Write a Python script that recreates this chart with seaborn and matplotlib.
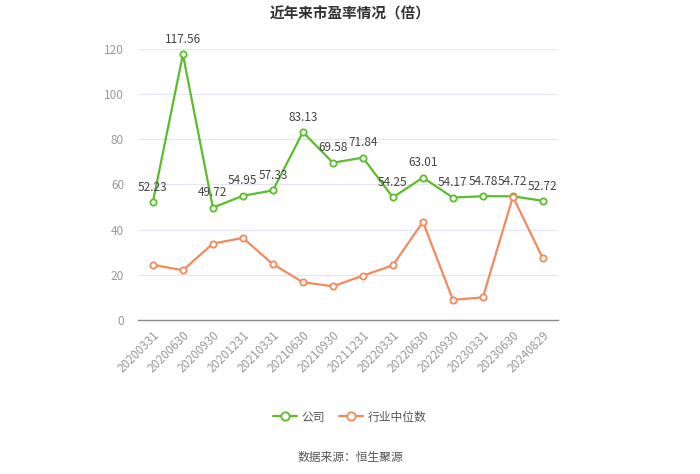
import matplotlib
matplotlib.use("Agg")
import matplotlib.pyplot as plt
import seaborn as sns
import pandas as pd
import numpy as np

dates = ["20200331", "20200630", "20200930", "20201231", "20210331", "20210630",
         "20210930", "20211231", "20220331", "20220630", "20220930", "20230331",
         "20230630", "20240829"]
company = [52.23, 117.56, 49.72, 54.95, 57.33, 83.13, 69.58, 71.84, 54.25, 63.01,
           54.17, 54.78, 54.72, 52.72]
industry = [24.4, 22.0, 33.8, 36.3, 24.7, 16.7, 14.9, 19.6, 24.2, 43.4, 8.9, 10.0,
            54.6, 27.2]
yticks = [0, 20, 40, 60, 80, 100, 120]

sns.set_theme(style="white")
plt.rcParams['font.family'] = ['Noto Sans CJK SC', 'DejaVu Sans']

green = "#5bbd2b"
orange = "#f28a5e"

df = pd.DataFrame({
    "x": list(range(len(dates))) * 2,
    "val": company + industry,
    "series": ["公司"] * len(dates) + ["行业中位数"] * len(dates),
})

fig = plt.figure(figsize=(7, 4.74), dpi=100)
ax = fig.add_axes([0.197, 0.325, 0.6, 0.572])

sns.lineplot(data=df, x="x", y="val", hue="series", palette=[green, orange],
             marker="o", markersize=4.5, markerfacecolor="white", markeredgewidth=1.3,
             linewidth=1.6, ax=ax, legend=False)
# set marker edge colors
for line, c in zip(ax.get_lines(), [green, orange]):
    line.set_markeredgecolor(c)

ax.set_xlim(-0.5, len(dates) - 0.5)
ax.set_ylim(0, 120)
ax.set_yticks(yticks)
ax.set_yticklabels([str(t) for t in yticks], color="#999999", fontsize=8.5)
ax.set_xticks(range(len(dates)))
ax.set_xticklabels(dates, rotation=45, ha="right", rotation_mode="anchor",
                   color="#999999", fontsize=8.5)
ax.tick_params(axis="x", length=4, color="#888888", width=0.8, pad=2)
ax.tick_params(axis="y", length=0, pad=10)
ax.set_xlabel("")
ax.set_ylabel("")
ax.grid(axis="y", color="#e3e6ee", linewidth=0.8)
for s in ["left", "right", "top"]:
    ax.spines[s].set_visible(False)
ax.spines["bottom"].set_color("#888888")
ax.spines["bottom"].set_linewidth(1)

for i, v in enumerate(company):
    ax.annotate(f"{v:.2f}", (i, v), xytext=(0, 6), textcoords="offset points",
                ha="center", va="bottom", fontsize=8.5, color="#444444")

fig.text(0.5, 0.972, "近年来市盈率情况（倍）", ha="center", va="center",
         fontsize=10.5, fontweight="bold", color="#333333")

# legend
from matplotlib.lines import Line2D
handles = [
    Line2D([], [], color=green, marker="o", markerfacecolor="white",
           markeredgecolor=green, markersize=6, linewidth=1.6, markeredgewidth=1.3),
    Line2D([], [], color=orange, marker="o", markerfacecolor="white",
           markeredgecolor=orange, markersize=6, linewidth=1.6, markeredgewidth=1.3),
]
fig.legend(handles, ["公司", "行业中位数"], loc="center", bbox_to_anchor=(0.5, 0.12),
           ncol=2, frameon=False, fontsize=8.5, labelcolor="#555555",
           handlelength=2.0, handletextpad=0.4, columnspacing=1.2)

fig.text(0.5, 0.035, "数据来源：恒生聚源", ha="center", va="center",
         fontsize=8.5, color="#555555")

fig.savefig("out.png", dpi=100, facecolor="white")
